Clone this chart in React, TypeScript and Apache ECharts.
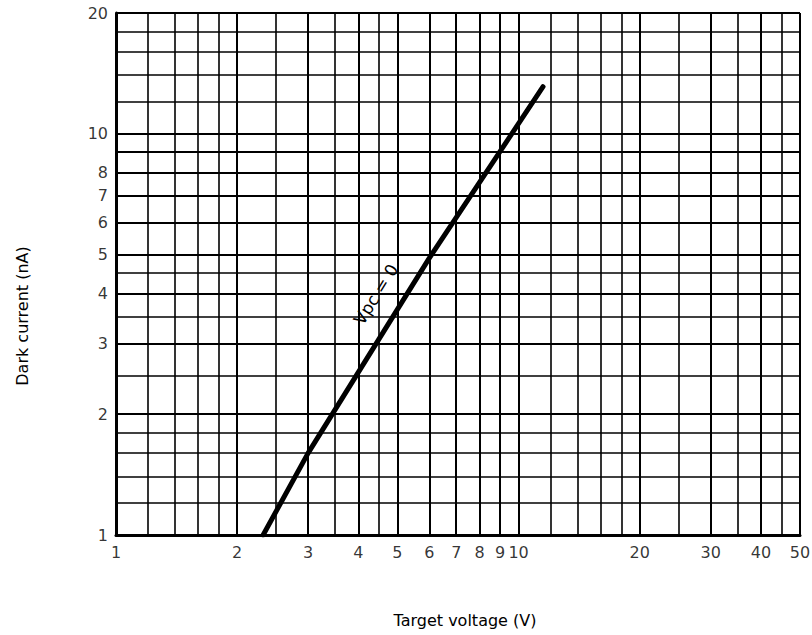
import React, { useEffect, useRef } from "react";
import * as echarts from "echarts";

// Grid line positions (log-log paper)
const xGrid = [1, 1.2, 1.4, 1.6, 1.8, 2, 2.5, 3, 3.5, 4, 4.5, 5, 6, 7, 8, 9, 10, 12, 14, 16, 18, 20, 25, 30, 35, 40, 45, 50];
const yGrid = [1, 1.2, 1.4, 1.6, 1.8, 2, 2.5, 3, 3.5, 4, 4.5, 5, 6, 7, 8, 9, 10, 12, 14, 16, 18, 20];
// Tick labels
const xTicks = [1, 2, 3, 4, 5, 6, 7, 8, 9, 10, 20, 30, 40, 50];
const yTicks = [1, 2, 3, 4, 5, 6, 7, 8, 10, 20];
// Curve: Vpc = 0
const curveX = [2.32, 3.0, 6.0, 11.5];
const curveY = [1.0, 1.6, 4.9, 13.1];
const curveLabel = "Vpc = 0";
const curveLabelAt = [4.42, 3.98];

const xTitle = "Target voltage (V)";
const yTitle = "Dark current (nA)";

const FONT = "DejaVu Sans";

export default function App() {
  const ref = useRef<HTMLDivElement>(null);
  useEffect(() => {
    document.body.style.margin = "0";
    const chart = echarts.init(ref.current!, null, { renderer: "svg" });
    const isMajor = (v: number) => Number.isInteger(v) && (v <= 10 || v % 10 === 0);
    const gridLines = [
      ...xGrid.map((v) => ({ xAxis: v, lineStyle: { width: isMajor(v) ? 2 : 1.6 } })),
      ...yGrid.map((v) => ({ yAxis: v, lineStyle: { width: isMajor(v) ? 2 : 1.6 } })),
    ];
    const titles = [
      {
        type: "text",
        x: 22,
        y: 316,
        rotation: Math.PI / 2,
        style: {
          text: yTitle,
          align: "center",
          verticalAlign: "middle",
          fontFamily: FONT,
          fontSize: 16,
          fill: "#000",
        },
      },
      {
        type: "text",
        x: 465,
        y: 620,
        style: {
          text: xTitle,
          align: "center",
          verticalAlign: "middle",
          fontFamily: FONT,
          fontSize: 16,
          fill: "#000",
        },
      },
    ];
    chart.setOption({
      animation: false,
      backgroundColor: "#ffffff",
      grid: { left: 116, top: 13, width: 684, height: 522, containLabel: false },
      graphic: titles,
      xAxis: {
        type: "log",
        logBase: 10,
        min: 1,
        max: 50,
        axisLine: { show: true, lineStyle: { color: "#000", width: 3 } },
        axisTick: { show: false },
        axisLabel: { show: false },
        splitLine: { show: false },
        minorSplitLine: { show: false },
      },
      yAxis: {
        type: "log",
        logBase: 10,
        min: 1,
        max: 20,
        axisLine: { show: true, lineStyle: { color: "#000", width: 3 } },
        axisTick: { show: false },
        axisLabel: { show: false },
        splitLine: { show: false },
        minorSplitLine: { show: false },
      },
      series: [
        {
          type: "line",
          data: [],
          silent: true,
          z: 1,
          markLine: {
            silent: true,
            symbol: "none",
            animation: false,
            label: { show: false },
            lineStyle: { color: "#000", type: "solid", width: 1.6 },
            data: gridLines,
          },
        },
        {
          type: "line",
          data: curveX.map((x, i) => [x, curveY[i]]),
          symbol: "none",
          lineStyle: { color: "#000", width: 5, cap: "round" },
          silent: true,
          z: 5,
        },
        {
          type: "scatter",
          silent: true,
          clip: false,
          symbolSize: 0,
          data: xTicks.map((v) => [v, 1]),
          label: {
            show: true,
            position: "bottom",
            distance: 9,
            formatter: (p: any) => String(p.value[0]),
            fontFamily: FONT,
            fontSize: 16,
            color: "#000",
          },
        },
        {
          type: "scatter",
          silent: true,
          clip: false,
          symbolSize: 0,
          data: yTicks.map((v) => [1, v]),
          label: {
            show: true,
            position: "left",
            distance: 8,
            formatter: (p: any) => String(p.value[1]),
            fontFamily: FONT,
            fontSize: 16,
            color: "#000",
          },
        },
      ],
    });
    const pt = chart.convertToPixel({ gridIndex: 0 }, curveLabelAt) as number[];
    chart.setOption({
      graphic: [
        ...titles,
        {
          type: "text",
          x: pt[0],
          y: pt[1],
          rotation: (58 * Math.PI) / 180,
          z: 4,
          style: {
            text: curveLabel,
            align: "center",
            verticalAlign: "middle",
            fontFamily: FONT,
            fontSize: 17,
            fill: "#000",
            backgroundColor: "#fff",
            padding: [1, 3],
          },
        },
      ],
    });
    return () => chart.dispose();
  }, []);
  return (
    <div
      ref={ref}
      style={{ position: "fixed", left: 0, top: 0, width: 812, height: 635 }}
    />
  );
}
